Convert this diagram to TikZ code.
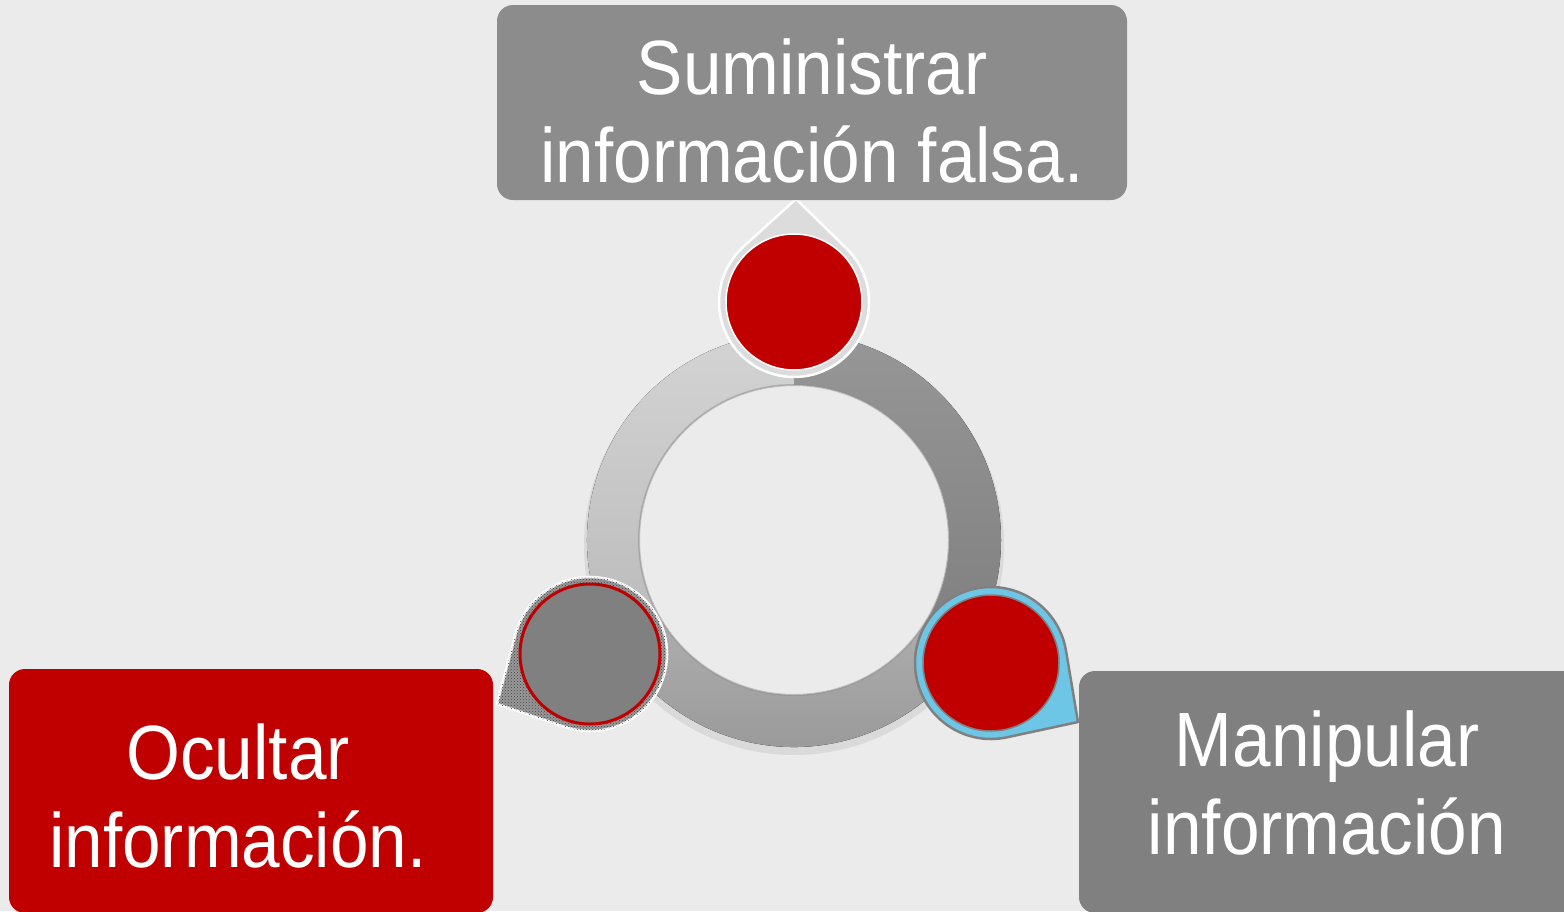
\documentclass[tikz,border=0pt]{standalone}
\usepackage{fontspec}
\setmainfont[FakeStretch=0.9]{Liberation Sans}
\usepackage{tikz}
\usetikzlibrary{calc}
\usetikzlibrary{patterns}

\definecolor{fondo}{HTML}{EBEBEB}
\definecolor{rojo}{HTML}{C00000}
\definecolor{grisA}{HTML}{8C8C8C}
\definecolor{grisB}{HTML}{808080}
\definecolor{grisC}{HTML}{DCDCDC}
\definecolor{celeste}{HTML}{6EC6E6}

\begin{document}
\begin{tikzpicture}[x=1pt, y=-1pt, caja/.style={rectangle, rounded corners=16pt, inner sep=0pt}, texto/.style={text=white, align=center, inner sep=0pt, font=\fontsize{77}{88}\selectfont}, gota/.style={line width=2.5pt, line join=round}, bola/.style={circle, inner sep=0pt, minimum size=136pt}]
			\clip (0,0) rectangle (1564,911);
			\fill[fondo] (0,0) rectangle (1564,911);

			\coordinate (centro) at (794,540);

			% anillo: tres tramos
			\fill[black, opacity=0.07] ($(centro)+(0,5)$) circle[radius=210];
			\fill[top color=black!17, bottom color=black!27] ($(centro)+(150:207)$) arc[start angle=150, end angle=270, radius=207] -- ($(centro)+(270:155)$) arc[start angle=270, end angle=150, radius=155] -- cycle;
			\fill[top color=black!41, bottom color=black!50] ($(centro)+(-90:207)$) arc[start angle=-90, end angle=30, radius=207] -- ($(centro)+(30:155)$) arc[start angle=30, end angle=-90, radius=155] -- cycle;
			\fill[top color=black!32, bottom color=black!41] ($(centro)+(30:207)$) arc[start angle=30, end angle=150, radius=207] -- ($(centro)+(150:155)$) arc[start angle=150, end angle=30, radius=155] -- cycle;
			\fill[fondo] (centro) circle[radius=155];
			\draw[black!45, line width=2pt, opacity=0.5] (centro) circle[radius=155];

			\coordinate (cS) at ($(centro)+(0,-238)$);
			\coordinate (cM) at ($(centro)+(197,123)$);
			\coordinate (cO) at ($(centro)+(-204,114)$);

			\coordinate (puntaS) at (796,199);
			\coordinate (puntaM) at (1078,722);
			\coordinate (puntaO) at (497,704);

			\filldraw[gota, fill=grisC, draw=white] (puntaS) -- ($(cS)+(-45.6:75)$) arc[start angle=-45.6, end angle=227.8, radius=75] -- cycle;
			\node[bola, fill=rojo, draw=white, line width=1.5pt] (bolaS) at (cS) {};

			\filldraw[gota, fill=celeste, draw=grisB] (puntaM) -- ($(cM)+(77.8:76)$) arc[start angle=77.8, end angle=350.4, radius=76] -- cycle;
			\node[bola, fill=rojo, draw=grisB, line width=1.5pt] (bolaM) at (cM) {};

			\filldraw[gota, fill=black!40, draw=white, postaction={pattern=crosshatch dots, pattern color=black!75}] (puntaO) -- ($(cO)+(194.9:77)$) arc[start angle=194.9, end angle=468.5, radius=77] -- cycle;
			\node[bola, fill=grisB, draw=rojo, line width=3pt, minimum size=140pt] (bolaO) at (cO) {};

			\node[caja, fill=grisA, minimum width=630pt, minimum height=195pt] (cajaS) at (812,102.5) {};
			\node[caja, fill=rojo, minimum width=484pt, minimum height=244pt] (cajaO) at (251,791) {};
			\node[caja, fill=grisB, minimum width=500pt, minimum height=242pt] (cajaM) at (1329,792) {};

			\node[texto] (txtS) at (812,111) {Suministrar\\información falsa.};
			\node[texto] (txtO) at (238,796) {Ocultar\\información.};
			\node[texto] (txtM) at (1327,783) {Manipular\\información};
		\end{tikzpicture}
\end{document}
